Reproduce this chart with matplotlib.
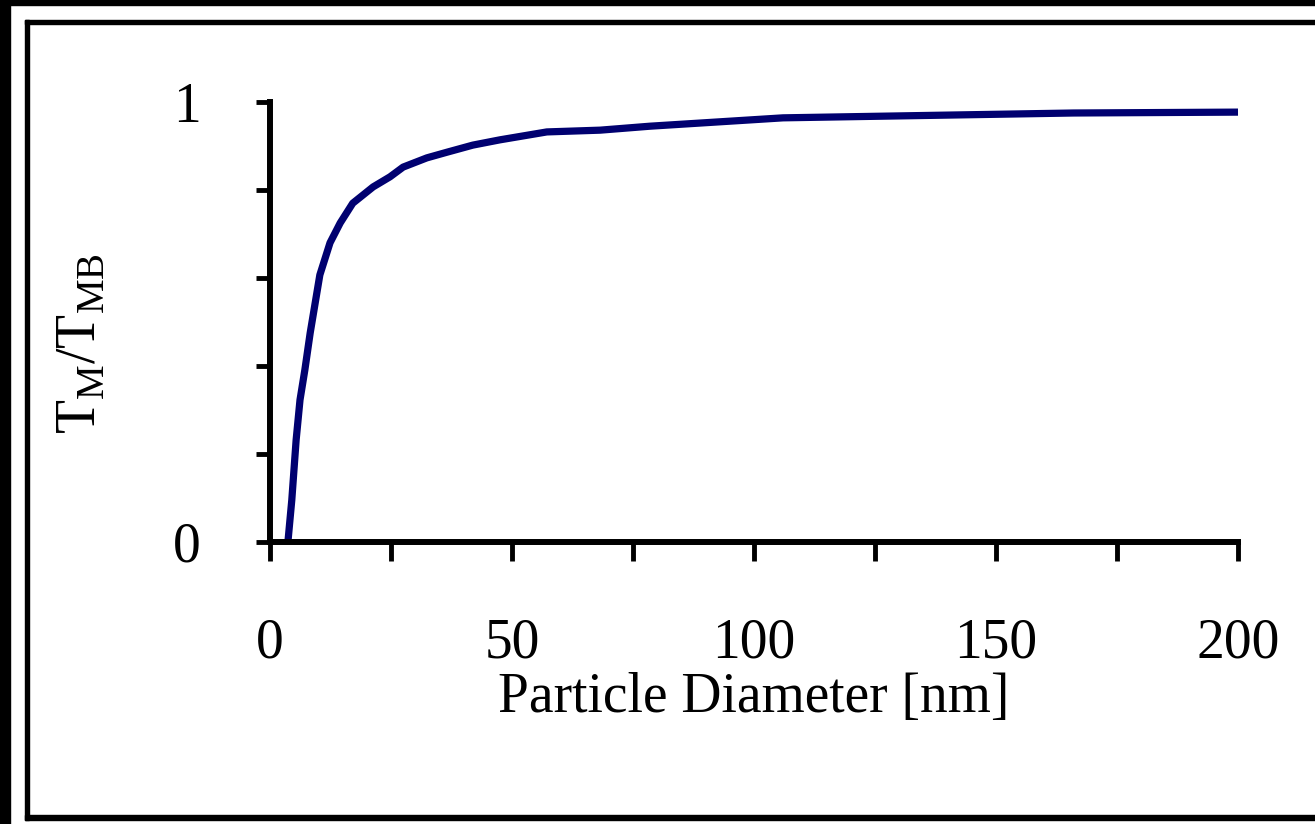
import matplotlib
matplotlib.use("Agg")
import matplotlib.pyplot as plt
from matplotlib.patches import Rectangle

plt.rcParams['font.family'] = ['Liberation Serif', 'DejaVu Serif']
plt.rcParams['mathtext.fontset'] = 'custom'
plt.rcParams['mathtext.rm'] = 'Liberation Serif'

# data
diameter = [3.7, 4.5, 5.4, 6.2, 7.2, 8.3, 10.3, 12.4, 14.5, 17.1, 21.3, 24.8,
            27.5, 32.4, 36.6, 41.9, 47.5, 57.2, 68.2, 78.5, 106, 166, 200]
ratio = [0.0, 0.095, 0.232, 0.323, 0.391, 0.475, 0.607, 0.680, 0.725, 0.770,
         0.807, 0.830, 0.852, 0.873, 0.886, 0.902, 0.914, 0.932, 0.936, 0.945,
         0.964, 0.975, 0.977]

xticks = [0, 25, 50, 75, 100, 125, 150, 175, 200]
xticklabels = ['0', '', '50', '', '100', '', '150', '', '200']
yticks = [0, 0.2, 0.4, 0.6, 0.8, 1.0]
yticklabels = ['0', '', '', '', '', '1']

W, H = 1315, 824
fig = plt.figure(figsize=(W / 100, H / 100), dpi=100)


def px_rect(x0, y0, x1, y1):
    # rectangle in pixel coords of the picture (origin top-left)
    fig.patches.append(Rectangle((x0 / W, 1 - y1 / H), (x1 - x0) / W, (y1 - y0) / H,
                                 transform=fig.transFigure, color='black', zorder=10))


# black borders and frame
px_rect(0, 0, 10, H)
px_rect(0, 0, W, 5)
px_rect(25, 20, 29, 820)
px_rect(25, 20, W, 24)
px_rect(25, 815, W, 820)

ax = fig.add_axes([270 / W, 1 - 542 / H, (1238 - 270) / W, (542 - 102) / H])
ax.plot(diameter, ratio, color='#000070', lw=5.2, solid_capstyle='butt', clip_on=False)

ax.set_xlim(0, 200)
ax.set_ylim(0, 1)
ax.set_xticks(xticks)
ax.set_xticklabels(xticklabels)
ax.set_yticks(yticks)
ax.set_yticklabels(yticklabels)

for side in ['top', 'right']:
    ax.spines[side].set_visible(False)
for side in ['left', 'bottom']:
    ax.spines[side].set_linewidth(4.3)

ax.tick_params(axis='x', direction='out', length=14, width=3.5, pad=40, labelsize=40)
ax.tick_params(axis='y', direction='out', length=10, width=3.5, pad=40, labelsize=40)

ax.set_xlabel('Particle Diameter [nm]', fontsize=40, labelpad=2)
ax.set_ylabel(r'T$_{\mathregular{M}}$/T$_{\mathregular{MB}}$', fontsize=40)
ax.yaxis.set_label_coords(-0.168, 0.45)

fig.savefig('out.png', dpi=100)
